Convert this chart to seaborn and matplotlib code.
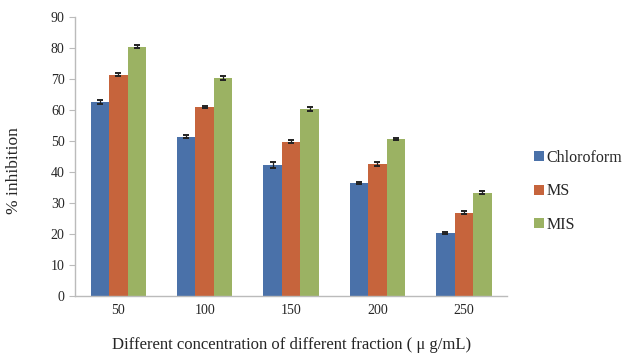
import pandas as pd
import numpy as np
import matplotlib.pyplot as plt
import seaborn as sns
from matplotlib.ticker import FixedLocator

# ======================================
# DATA
# ======================================

concentrations = ["50", "100", "150", "200", "250"]
fractions = ["Chloroform", "MS", "MIS"]

chloroform = [62.5, 51.4, 42.4, 36.5, 20.4]
ms = [71.4, 61.0, 49.8, 42.6, 26.9]
mis = [80.4, 70.4, 60.4, 50.6, 33.3]

chloroform_err = [0.6, 0.5, 1.0, 0.4, 0.4]
ms_err = [0.5, 0.4, 0.5, 0.6, 0.5]
mis_err = [0.5, 0.6, 0.6, 0.4, 0.5]

palette = ["#4A71A9", "#C6643C", "#9BB263"]

df = pd.DataFrame({
    "Concentration": concentrations * 3,
    "Fraction": np.repeat(fractions, len(concentrations)),
    "Inhibition": chloroform + ms + mis,
    "Error": chloroform_err + ms_err + mis_err,
})

# ======================================
# PLOT
# ======================================

sns.set_style("white")
plt.rcParams["font.family"] = ["Liberation Serif", "DejaVu Serif"]

fig = plt.figure(figsize=(6.26, 3.57), dpi=100)
ax = fig.add_axes([0.12, 0.171, 0.69, 0.781])

sns.barplot(
    data=df,
    x="Concentration",
    y="Inhibition",
    hue="Fraction",
    palette=palette,
    errorbar=None,
    width=0.64,
    saturation=1,
    linewidth=0,
    ax=ax,
)

# error bars placed on top of the drawn bars
for container, fr in zip(ax.containers, fractions):
    errs = df.loc[df["Fraction"] == fr, "Error"].values
    xs = [p.get_x() + p.get_width() / 2 for p in container.patches]
    hs = [p.get_height() for p in container.patches]
    ax.errorbar(xs, hs, yerr=errs, fmt="none", ecolor="#222222",
                elinewidth=0.9, capsize=2.5, capthick=1.4)

ax.set_ylim(0, 90)
ax.set_yticks(range(0, 91, 10))
ax.set_xlim(-0.5, 4.5)

ax.xaxis.set_minor_locator(FixedLocator(np.arange(-0.5, 5, 1)))
ax.tick_params(axis="x", which="major", length=0, pad=6, labelsize=10)
ax.tick_params(axis="x", which="minor", length=4, color="#BBBBBB", direction="out")
ax.tick_params(axis="y", length=4, color="#BBBBBB", direction="out", labelsize=10, left=True)

for s in ["top", "right"]:
    ax.spines[s].set_visible(False)
for s in ["left", "bottom"]:
    ax.spines[s].set_color("#BBBBBB")
    ax.spines[s].set_linewidth(1.0)

ax.set_xlabel("Different concentration of different fraction ( \u03bc g/mL)",
              fontsize=12, labelpad=14)
ax.set_ylabel("% inhibition", fontsize=12.5)
ax.yaxis.set_label_coords(-0.122, 0.45)

handles, labels = ax.get_legend_handles_labels()
ax.legend(handles, labels, loc="center left", bbox_to_anchor=(1.03, 0.375),
          frameon=False, fontsize=11.5, handlelength=0.6, handleheight=0.6,
          handletextpad=0.15, labelspacing=1.1)

fig.savefig("out.png", dpi=100)
